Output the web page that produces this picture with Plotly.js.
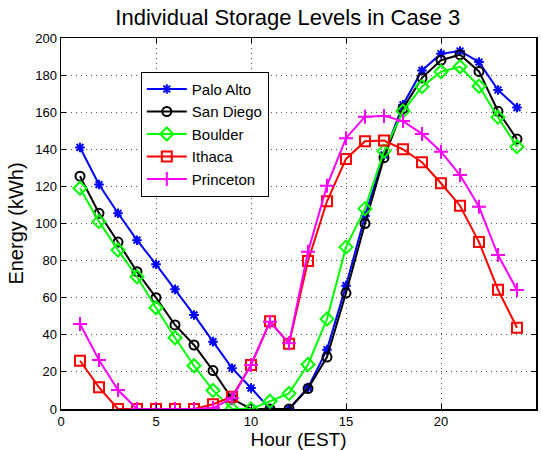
<!DOCTYPE html>
<html>
<head>
<meta charset="utf-8">
<script src="https://cdn.plot.ly/plotly-3.0.1.min.js"></script>
<style>html,body{margin:0;padding:0;background:#fff;}#chart{width:543px;height:450px;}</style>
</head>
<body>
<div id="chart"></div>
<script>
const hours = [1,2,3,4,5,6,7,8,9,10,11,12,13,14,15,16,17,18,19,20,21,22,23,24];
const paloAlto  = [141, 121, 105.5, 91, 78, 64.5, 50.7, 36.3, 22, 11.3, 0, 0, 11.5, 32, 66.5, 104, 137, 164, 182.5, 191.5, 193, 187, 172, 162.5];
const sanDiego  = [125.5, 105.5, 90, 74, 60, 45.3, 34.5, 20.7, 5.5, 0, 0, 0, 11, 28, 62.5, 100, 135.5, 162, 178.5, 188, 191, 182, 160.5, 145.5];
const boulder   = [119, 101, 85.7, 71.3, 54.6, 38.4, 23.3, 10, 0, 0, 4.2, 8.4, 24, 48.5, 87.3, 108, 139, 160.6, 173.8, 181.8, 184.5, 174, 157.3, 141.4];
const ithaca    = [26, 11.7, 0, 0, 0, 0, 0, 2.6, 6.6, 23.7, 47.3, 35.2, 79.8, 112, 134.8, 144.3, 144.7, 140, 133, 121.7, 109.6, 90, 64.3, 43.8];
const princeton = [45.8, 26.4, 10.2, 0, 0, 0, 0, 0.5, 5.8, 23.7, 47, 35.4, 84.8, 120.4, 146, 157.6, 158, 155.2, 148.3, 138.7, 126.1, 109, 83, 64.2];
const seriesNames = ["Palo Alto", "San Diego", "Boulder", "Ithaca", "Princeton"];
const xTicks = [0, 5, 10, 15, 20, 25];
const yTicks = [0, 20, 40, 60, 80, 100, 120, 140, 160, 180, 200];

const seriesData = [paloAlto, sanDiego, boulder, ithaca, princeton];
const colors = ["#0000ff", "#000000", "#00ff00", "#ff0000", "#ff00ff"];
const symbols = ["asterisk-open", "circle-open", "diamond-open", "square-open", "cross-thin-open"];
const sizes = [8, 9, 10, 10, 10];

const traces = seriesData.map((ys, i) => ({
  x: hours, y: ys, name: seriesNames[i], type: "scatter", mode: "lines+markers",
  line: {color: colors[i], width: 2},
  marker: {symbol: symbols[i], size: sizes[i], color: colors[i], line: {color: colors[i], width: 2}}
}));

const axisCommon = {
  showline: true, linecolor: "#000", linewidth: 1.5, mirror: "ticks",
  ticks: "inside", ticklen: 5, tickcolor: "#000",
  showgrid: true, gridcolor: "#555", griddash: "1px,4px", gridwidth: 1,
  zeroline: false, tickfont: {size: 13, color: "#000"}
};

const layout = {
  width: 543, height: 450,
  margin: {l: 61, r: 7, t: 38, b: 41},
  paper_bgcolor: "#fff", plot_bgcolor: "#fff",
  font: {family: "Liberation Sans, Arial, sans-serif", color: "#000"},
  title: {text: "Individual Storage Levels in Case 3", font: {size: 22, color: "#000"}, x: 0.530, xanchor: "center", y: 0.962, yanchor: "middle"},
  xaxis: Object.assign({}, axisCommon, {range: [0, 25], tickvals: xTicks, ticklabelstandoff: 0, title: {text: "Hour (EST)", font: {size: 19}, standoff: 1}}),
  yaxis: Object.assign({}, axisCommon, {range: [0, 200], tickvals: yTicks, title: {text: "Energy (kWh)", font: {size: 20}, standoff: 6}}),
  legend: {x: 0.168, y: 0.909, xanchor: "left", yanchor: "top", bgcolor: "#fff", bordercolor: "#000", borderwidth: 1, font: {size: 15}, tracegroupgap: 0, itemwidth: 40},
  showlegend: true
};

Plotly.newPlot("chart", traces, layout, {displayModeBar: false, staticPlot: true});
</script>
</body>
</html>
